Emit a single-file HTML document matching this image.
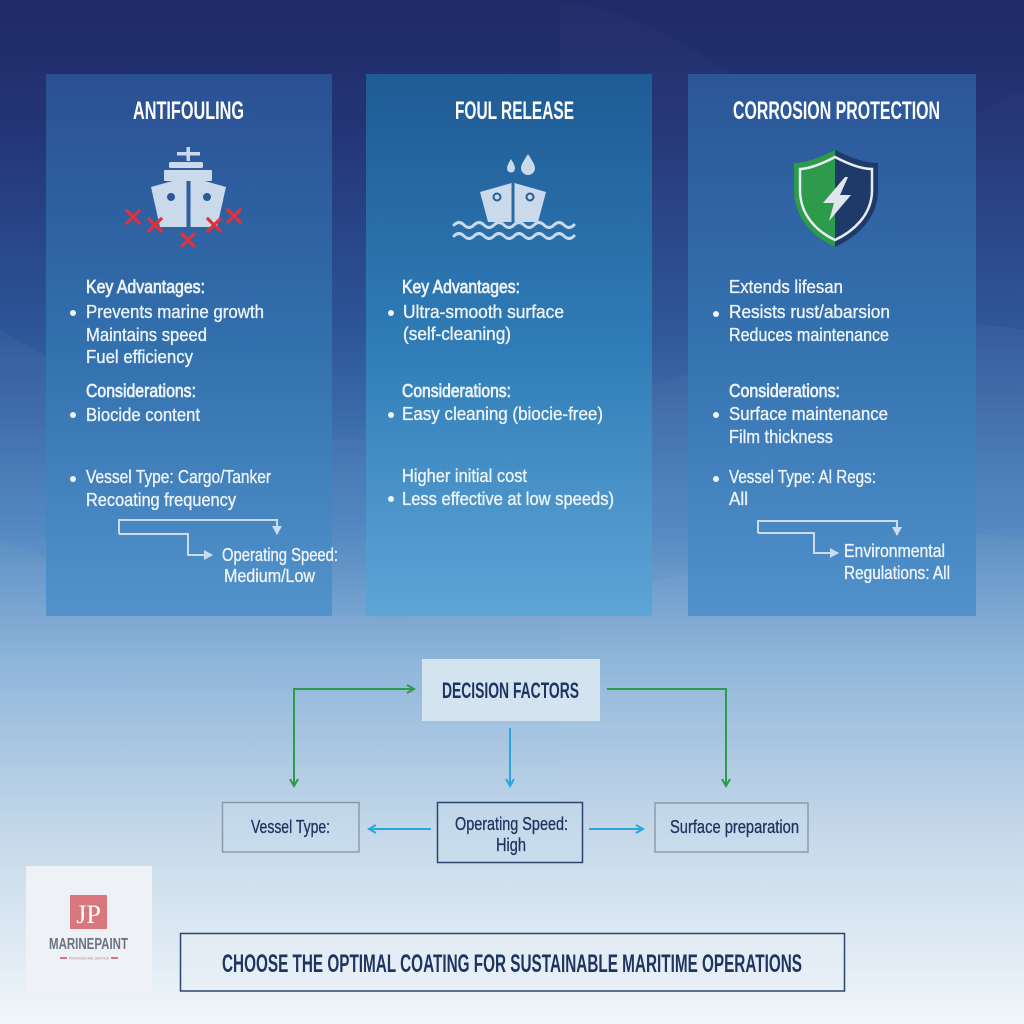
<!DOCTYPE html>
<html><head><meta charset="utf-8"><style>
html,body{margin:0;padding:0;width:1024px;height:1024px;overflow:hidden}
svg{display:block}
text{font-family:"Liberation Sans Narrow","Liberation Sans",sans-serif}
.w{fill:#eef3f8;font-size:18px;stroke:#eef3f8;stroke-width:0.35px}
.h{fill:#eef3f8;font-size:18px;stroke:#eef3f8;stroke-width:0.7px}
.t{fill:#ffffff;font-size:25px;font-weight:bold}
.d{fill:#1f3560;stroke:#1f3560;stroke-width:0.3px;font-size:18px}
</style></head><body>
<svg width="1024" height="1024" viewBox="0 0 1024 1024" xmlns="http://www.w3.org/2000/svg">
<defs>
<linearGradient id="bg" x1="0" y1="0" x2="0" y2="1">
<stop offset="0" stop-color="#202a68"/>
<stop offset="0.12" stop-color="#233475"/>
<stop offset="0.32" stop-color="#2c5597"/>
<stop offset="0.52" stop-color="#4f86c0"/>
<stop offset="0.65" stop-color="#89b2d8"/>
<stop offset="0.82" stop-color="#c3d8ea"/>
<stop offset="1" stop-color="#f1f6fa"/>
</linearGradient>
<linearGradient id="p1" x1="0" y1="0" x2="0" y2="1">
<stop offset="0" stop-color="#2a5093"/>
<stop offset="0.5" stop-color="#3270ae"/>
<stop offset="1" stop-color="#5393cb"/>
</linearGradient>
<linearGradient id="p2" x1="0" y1="0" x2="0" y2="1">
<stop offset="0" stop-color="#1f5b95"/>
<stop offset="0.5" stop-color="#2f7cb7"/>
<stop offset="1" stop-color="#5ea5d6"/>
</linearGradient>
<linearGradient id="p3" x1="0" y1="0" x2="0" y2="1">
<stop offset="0" stop-color="#2b5698"/>
<stop offset="0.5" stop-color="#3472b0"/>
<stop offset="1" stop-color="#5192cb"/>
</linearGradient>
<marker id="ag" markerWidth="10" markerHeight="10" refX="8" refY="5" orient="auto" markerUnits="userSpaceOnUse">
<path d="M1,1 L8,5 L1,9" fill="none" stroke="#2e9a4e" stroke-width="2"/>
</marker>
<marker id="ab" markerWidth="10" markerHeight="10" refX="8" refY="5" orient="auto" markerUnits="userSpaceOnUse">
<path d="M1,1 L8,5 L1,9" fill="none" stroke="#2aa6dc" stroke-width="2"/>
</marker>
<marker id="aw" markerWidth="10" markerHeight="10" refX="8" refY="5" orient="auto" markerUnits="userSpaceOnUse">
<path d="M0,0 L9,5 L0,10 Z" fill="#cbdcee"/>
</marker>
</defs>
<rect width="1024" height="1024" fill="url(#bg)"/>
<!-- swooshes -->
<path d="M560,1024 L560,0 C700,20 760,120 860,140 C940,150 990,100 1024,90 L1024,1024 Z" fill="#ffffff" opacity="0.015"/>
<path d="M0,330 C150,420 300,470 520,420 C700,380 850,300 1024,330 L1024,1024 L0,1024 Z" fill="#ffffff" opacity="0.03"/>
<path d="M0,540 C200,620 420,640 620,590 C800,545 920,520 1024,540 L1024,1024 L0,1024 Z" fill="#ffffff" opacity="0.04"/>

<!-- panels -->
<rect x="46" y="74" width="286" height="542" fill="url(#p1)"/>
<rect x="366" y="74" width="286" height="542" fill="url(#p2)"/>
<rect x="688" y="74" width="288" height="542" fill="url(#p3)"/>

<!-- titles -->
<text class="t" x="133" y="119" textLength="111" lengthAdjust="spacingAndGlyphs">ANTIFOULING</text>
<text class="t" x="455" y="119" textLength="119" lengthAdjust="spacingAndGlyphs">FOUL RELEASE</text>
<text class="t" x="733" y="119" textLength="207" lengthAdjust="spacingAndGlyphs">CORROSION PROTECTION</text>

<!-- ship icon 1 -->
<g fill="#cadaeb">
<rect x="186.5" y="147" width="3.5" height="14"/>
<rect x="177" y="152" width="23" height="3.5"/>
<rect x="169" y="162" width="34" height="6" rx="1.5"/>
<rect x="164" y="170" width="48" height="11" rx="1"/>
<path d="M151,187 L186.5,177 L186.5,227 L160,227 Z"/>
<path d="M226,187 L190.5,177 L190.5,227 L217,227 Z"/>
</g>
<circle cx="171" cy="197" r="4" fill="#2b5a9c"/>
<circle cx="207" cy="197" r="4" fill="#2b5a9c"/>
<g stroke="#e0323d" stroke-width="3.2" stroke-linecap="square">
<path d="M127,211 L139,223 M139,211 L127,223"/>
<path d="M149,219 L161,231 M161,219 L149,231"/>
<path d="M182,234 L194,246 M194,234 L182,246"/>
<path d="M208,219 L220,231 M220,219 L208,231"/>
<path d="M228,210 L240,222 M240,210 L228,222"/>
</g>

<!-- ship icon 2 -->
<g fill="#cadaeb">
<path d="M528,154 C533,162 535,165 535,168 A7,7 0 0 1 521,168 C521,165 523,162 528,154 Z"/>
<path d="M511,159 C514,164 515,166 515,168.5 A4,4 0 0 1 507,168.5 C507,166 508,164 511,159 Z"/>
<path d="M480,192 L511.5,183 L511.5,222 L488,222 Z"/>
<path d="M546,192 L514.5,183 L514.5,222 L538,222 Z"/>
</g>
<circle cx="497" cy="197" r="3.5" fill="#cadaeb" stroke="#245f98" stroke-width="2"/>
<circle cx="530" cy="197" r="3.5" fill="#cadaeb" stroke="#245f98" stroke-width="2"/>
<g fill="none" stroke="#cadaeb" stroke-width="3" stroke-linecap="round">
<path d="M454,225 q5,-5 10,0 t10,0 t10,0 t10,0 t10,0 t10,0 t10,0 t10,0 t10,0 t10,0 t10,0 t10,0"/>
<path d="M454,236 q5,-5 10,0 t10,0 t10,0 t10,0 t10,0 t10,0 t10,0 t10,0 t10,0 t10,0 t10,0 t10,0"/>
</g>

<!-- shield -->
<path d="M835,150 C815,160 802,163 794,163 L794,190 C794,220 815,238 835,247 C855,238 878,220 878,190 L878,163 C868,163 855,160 835,150 Z" fill="#1f3a68"/>
<path d="M835,150 C815,160 802,163 794,163 L794,190 C794,220 815,238 835,247 Z" fill="#2e9a4c"/>
<path d="M835,157 C818,166 806,169 800,169 L800,190 C800,216 818,232 835,240 C852,232 872,216 872,190 L872,169 C864,169 852,166 835,157 Z" fill="none" stroke="#e6edf3" stroke-width="2.5"/>
<path d="M845,177 L823,203 L834,203 L829,221 L851,195 L840,195 L848,177 Z" fill="#dfe6ee"/>

<!-- panel 1 text -->
<text class="h" x="86" y="293" textLength="119" lengthAdjust="spacingAndGlyphs">Key Advantages:</text>
<text class="w" x="86" y="318" textLength="178" lengthAdjust="spacingAndGlyphs">Prevents marine growth</text>
<text class="w" x="86" y="341" textLength="121" lengthAdjust="spacingAndGlyphs">Maintains speed</text>
<text class="w" x="86" y="363" textLength="107" lengthAdjust="spacingAndGlyphs">Fuel efficiency</text>
<text class="h" x="86" y="397" textLength="110" lengthAdjust="spacingAndGlyphs">Considerations:</text>
<text class="w" x="86" y="421" textLength="114" lengthAdjust="spacingAndGlyphs">Biocide content</text>
<text class="w" x="86" y="483" textLength="185" lengthAdjust="spacingAndGlyphs">Vessel Type: Cargo/Tanker</text>
<text class="w" x="86" y="506" textLength="150" lengthAdjust="spacingAndGlyphs">Recoating frequency</text>
<text class="w" x="222" y="561" textLength="116" lengthAdjust="spacingAndGlyphs">Operating Speed:</text>
<text class="w" x="224" y="582" textLength="91" lengthAdjust="spacingAndGlyphs">Medium/Low</text>
<g fill="#eef3f8">
<circle cx="73" cy="313" r="3"/>
<circle cx="73" cy="415" r="3"/>
<circle cx="73" cy="479" r="3"/>
</g>
<g fill="none" stroke="#cbdcee" stroke-width="2">
<path d="M119,534 L119,520 L277,520 L277,534" marker-end="url(#aw)"/>
<path d="M119,534 L188,534 L188,555 L212,555" marker-end="url(#aw)"/>
</g>

<!-- panel 2 text -->
<text class="h" x="402" y="293" textLength="118" lengthAdjust="spacingAndGlyphs">Key Advantages:</text>
<text class="w" x="403" y="318" textLength="161" lengthAdjust="spacingAndGlyphs">Ultra-smooth surface</text>
<text class="w" x="403" y="340" textLength="108" lengthAdjust="spacingAndGlyphs">(self-cleaning)</text>
<text class="h" x="402" y="397" textLength="109" lengthAdjust="spacingAndGlyphs">Considerations:</text>
<text class="w" x="402" y="420" textLength="201" lengthAdjust="spacingAndGlyphs">Easy cleaning (biocie-free)</text>
<text class="w" x="402" y="482" textLength="125" lengthAdjust="spacingAndGlyphs">Higher initial cost</text>
<text class="w" x="402" y="505" textLength="212" lengthAdjust="spacingAndGlyphs">Less effective at low speeds)</text>
<g fill="#eef3f8">
<circle cx="391" cy="313" r="3"/>
<circle cx="391" cy="415" r="3"/>
<circle cx="391" cy="499" r="3"/>
</g>

<!-- panel 3 text -->
<text class="w" x="729" y="293" textLength="114" lengthAdjust="spacingAndGlyphs">Extends lifesan</text>
<text class="w" x="729" y="318" textLength="161" lengthAdjust="spacingAndGlyphs">Resists rust/abarsion</text>
<text class="w" x="729" y="341" textLength="160" lengthAdjust="spacingAndGlyphs">Reduces maintenance</text>
<text class="h" x="729" y="397" textLength="111" lengthAdjust="spacingAndGlyphs">Considerations:</text>
<text class="w" x="729" y="420" textLength="159" lengthAdjust="spacingAndGlyphs">Surface maintenance</text>
<text class="w" x="729" y="443" textLength="104" lengthAdjust="spacingAndGlyphs">Film thickness</text>
<text class="w" x="729" y="483" textLength="147" lengthAdjust="spacingAndGlyphs">Vessel Type: Al Regs:</text>
<text class="w" x="729" y="505" textLength="19" lengthAdjust="spacingAndGlyphs">All</text>
<text class="w" x="844" y="557" textLength="101" lengthAdjust="spacingAndGlyphs">Environmental</text>
<text class="w" x="844" y="579" textLength="106" lengthAdjust="spacingAndGlyphs">Regulations: All</text>
<g fill="#eef3f8">
<circle cx="716" cy="314" r="3"/>
<circle cx="716" cy="415" r="3"/>
<circle cx="716" cy="479" r="3"/>
</g>
<g fill="none" stroke="#cbdcee" stroke-width="2">
<path d="M758,533 L758,521 L897,521 L897,535" marker-end="url(#aw)"/>
<path d="M758,533 L814,533 L814,553 L838,553" marker-end="url(#aw)"/>
</g>

<!-- decision section -->
<rect x="422" y="659" width="178" height="62" fill="#d3e3f0"/>
<text x="442" y="698" textLength="137" lengthAdjust="spacingAndGlyphs" style="font-size:22px;font-weight:bold;fill:#1f3560">DECISION FACTORS</text>

<g fill="none" stroke="#2e9a4e" stroke-width="2">
<path d="M294,786 L294,689 L414,689" marker-end="url(#ag)"/>
<path d="M294,689 L294,786" marker-end="url(#ag)"/>
<path d="M607,689 L726,689 L726,786" marker-end="url(#ag)"/>
</g>
<g fill="none" stroke="#2aa6dc" stroke-width="2">
<path d="M510,728 L510,786" marker-end="url(#ab)"/>
<path d="M431,829 L369,829" marker-end="url(#ab)"/>
<path d="M589,829 L643,829" marker-end="url(#ab)"/>
</g>

<rect x="222.5" y="802.5" width="136.5" height="49.5" fill="#c6dbec" fill-opacity="0.5" stroke="#8c9bab" stroke-width="1.5"/>
<text class="d" x="251" y="833" textLength="79" lengthAdjust="spacingAndGlyphs">Vessel Type:</text>

<rect x="437.5" y="802.5" width="145" height="60" fill="#c6dbec" fill-opacity="0.5" stroke="#2b4470" stroke-width="1.5"/>
<text class="d" x="455" y="830" textLength="113" lengthAdjust="spacingAndGlyphs">Operating Speed:</text>
<text class="d" x="496" y="851" textLength="30" lengthAdjust="spacingAndGlyphs">High</text>

<rect x="655" y="803" width="153" height="49" fill="#c6dbec" fill-opacity="0.5" stroke="#8c9bab" stroke-width="1.5"/>
<text class="d" x="670" y="833" textLength="129" lengthAdjust="spacingAndGlyphs">Surface preparation</text>

<!-- logo -->
<rect x="26" y="866" width="126" height="126" fill="#eef2f6"/>
<rect x="70" y="895" width="37" height="34" fill="#d9777d"/>
<text x="88.5" y="923" text-anchor="middle" style="font-family:'Liberation Serif',serif;font-size:26px;fill:#ffffff">JP</text>
<text x="49" y="949" textLength="79" lengthAdjust="spacingAndGlyphs" style="font-size:16px;font-weight:bold;fill:#6b7380">MARINEPAINT</text>
<rect x="60" y="957" width="7" height="2" fill="#d9777d"/>
<rect x="111" y="957" width="7" height="2" fill="#d9777d"/>
<text x="69" y="959.5" textLength="40" lengthAdjust="spacingAndGlyphs" style="font-size:4px;fill:#c77b80">PROFESSIONAL SERVICE</text>

<!-- bottom banner -->
<rect x="180.5" y="933.5" width="664" height="57.5" fill="#e6eff7" fill-opacity="0.6" stroke="#2b4470" stroke-width="1.5"/>
<text x="222" y="972" textLength="580" lengthAdjust="spacingAndGlyphs" style="font-size:25px;font-weight:bold;fill:#1f3560">CHOOSE THE OPTIMAL COATING FOR SUSTAINABLE MARITIME OPERATIONS</text>
</svg>
</body></html>
